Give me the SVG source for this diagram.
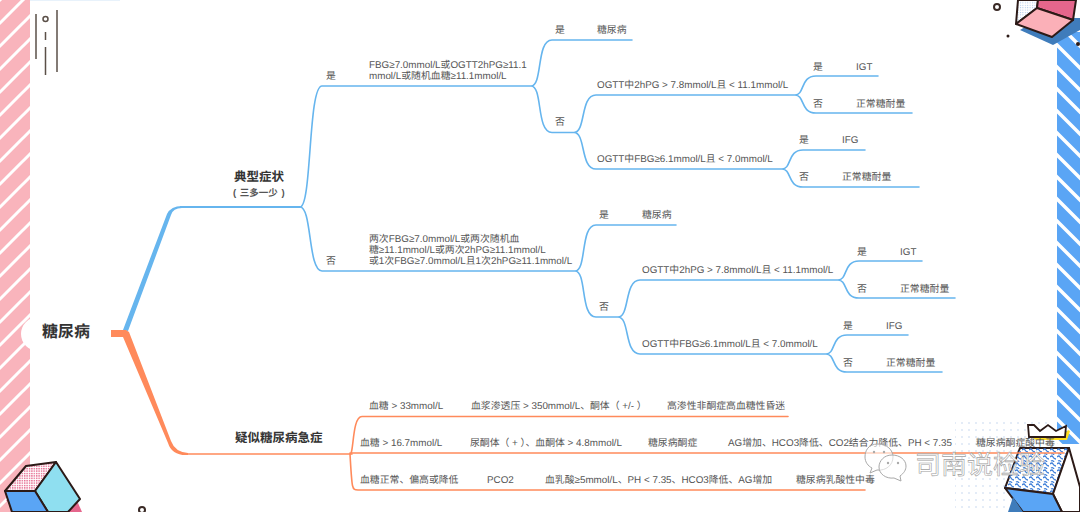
<svg xmlns="http://www.w3.org/2000/svg" width="1080" height="512" viewBox="0 0 1080 512">
<style>
text{font-family:"Liberation Sans","Noto Sans CJK SC",sans-serif;font-size:9.850px;fill:#555;text-rendering:geometricPrecision}
.b{fill:none;stroke:#66b5ee;stroke-width:1.600;stroke-linecap:round}
.o{fill:none;stroke:#ff8a5b;stroke-width:1.600;stroke-linecap:round}
.k{stroke:#2c1a17;stroke-width:2;stroke-linejoin:round}
.h{font-size:12.500px;font-weight:bold;fill:#333}
.d{fill:none;stroke:#5b5048;stroke-width:1.500}
.wm{font-size:26px;fill:#fff;stroke:#a0a0a0;stroke-width:.6}
.bub{fill:#fff;fill-opacity:.6;stroke:#a8a8a8;stroke-width:1}
</style>
<defs>
<pattern id="ps" width="23" height="23" patternUnits="userSpaceOnUse"><rect width="23" height="23" fill="#f9b4bc"/><path d="M-5 5L5-5M-5 28L28-5M18 28L28 18" stroke="#fff" stroke-width="3"/></pattern>
<pattern id="bs" width="22" height="22" patternUnits="userSpaceOnUse"><rect width="22" height="22" fill="#5aa5f5"/><path d="M-5 17L5 27M-5-5L27 27M17-5L27 5" stroke="#fff" stroke-width="3.500"/></pattern>
<pattern id="hp" width="2.400" height="2.400" patternUnits="userSpaceOnUse"><rect width="2.400" height="2.400" fill="#fff"/><rect width="1.400" height="1.400" fill="#e5668c"/></pattern>
<pattern id="hb" width="2.400" height="2.400" patternUnits="userSpaceOnUse"><rect width="2.400" height="2.400" fill="#fff"/><rect width="1" height="1" fill="#a9c6e8"/></pattern>
<pattern id="sq" width="7" height="7" patternUnits="userSpaceOnUse"><path d="M0 2q2-2 3 0t3 2M1 6q2-1 3 1" fill="none" stroke="#3f7fd8" stroke-width="1.300"/></pattern>
<pattern id="dt" width="7" height="7" patternUnits="userSpaceOnUse"><circle cx="3" cy="3" r="1" fill="#dbe6f5"/></pattern>
</defs>
<rect width="1080" height="512" fill="#fff"/>
<rect width="30" height="512" fill="url(#ps)"/>
<rect x="1057" y="32" width="23" height="412" fill="url(#bs)"/>
<rect x="30" y="0" width="90" height="1" fill="#e8f2fb"/>
<g id="deco-top-left"><path class="d" d="M36 14V59M45.500 32V40M45.500 47V75M57 10V72"/><circle cx="45.500" cy="19" r="2.500" fill="#fff" stroke="#5b5048" stroke-width="1.500"/></g>
<g id="deco-top-right">
<circle cx="997" cy="7" r="3" fill="#fff" stroke="#3a2a26" stroke-width="2"/><circle cx="1008" cy="36" r="1.500" fill="#2c1a17"/><circle cx="1078" cy="44" r="2" fill="#2c1a17"/>
<path d="M1020 30L1053 45L1080 30V18H1040Z" fill="#3f7cbb"/>
<path class="k" d="M1016 24L1018 0H1038L1037 8Z" fill="url(#hb)"/>
<path class="k" d="M1037 8L1038 0H1076L1073 20Z" fill="#e5668c"/>
<path class="k" d="M1016 24L1037 8L1073 20L1052 37Z" fill="#fbb0b8"/>
</g>
<g id="deco-bottom-left">
<path d="M6 500L16 512H82L78 503Z" fill="#e5668c"/>
<path class="k" d="M5 491L26 466L56 462L35 491Z" fill="url(#hp)"/>
<path class="k" d="M35 491L56 462L80 499L68 512H48Z" fill="#8fdff0"/>
<path class="k" d="M5 491H35L48 512H12Z" fill="#5aa5f5"/>
<circle cx="142" cy="510" r="3" fill="#fff" stroke="#3a2a26" stroke-width="2"/>
</g>
<g id="deco-bottom-right">
<rect x="955" y="422" width="95" height="90" fill="url(#dt)"/>
<path d="M1031 437H1062L1068 430L1070 431L1067 440H1036Z" fill="#ffdf1f"/>
<path d="M1028 425L1029 437H1065L1066 426L1056 431L1048 425L1040 431L1034 425Z" fill="#fff" stroke="#2c1a17" stroke-width="1.800"/>
<path class="k" d="M1020 448H1069L1053 494L1005 488Z" fill="#fff"/>
<path d="M1020 448H1069L1053 494L1005 488Z" fill="url(#sq)"/>
<path class="k" d="M1069 448L1080 487V512H1062L1053 494Z" fill="#fff"/>
<path class="k" d="M1005 488L1053 494L1062 512H1023Z" fill="#5aa5f5"/>
<path d="M1008 512L1013 497L1023 512Z" fill="#3f7cbb"/>
</g>
<g id="connectors">
<path d="M123 330L167 214Q171 206 182 206V208Q173 208 171 215L128 331Z" fill="#66b5ee"/>
<path d="M111 330H126L129 332L171 441Q175 452 188 453V455Q172 456 168 443L123 337H111Z" fill="#ff8a5b"/>
<path d="M180 207H300" fill="none" stroke="#66b5ee" stroke-width="2"/>
<path class="b" d="M300 207C312 207 308 86 322 86H531C543 86 536 40 552 40H632M531 86C543 86 536 132.500 552 132.500H574C586 132.500 580 95 596 95H795C805 95 800 76 816 76H878M795 95C805 95 800 113 816 113H912M574 132.500C586 132.500 580 169 596 169H782C792 169 787 150 803 150H865M782 169C792 169 787 187 803 187H919"/>
<path class="b" d="M300 207C312 207 308 271 322 271H575C587 271 580 225 596 225H676M575 271C587 271 580 317 596 317H618C630 317 624 280 640 280H838C848 280 843 261 859 261H922M838 280C848 280 843 298 859 298H955M618 317C630 317 624 354 640 354H826C836 354 831 335 847 335H908M826 354C836 354 831 372 847 372H942"/>
<path class="o" d="M188 454H352"/>
<path class="o" d="M350 454C354 454 352 416.500 362 416.500H788M350 453H1064M350 454C352 490 352 490 358 490H865"/>
</g>
<g id="root"><circle cx="38" cy="334" r="17" fill="#fff"/><text x="42" y="337" style="font-size:16px;font-weight:bold;fill:#333">糖尿病</text></g>
<g id="n-typical"><text class="h" x="234" y="181">典型症状</text><text x="233" y="196" style="font-weight:bold;font-size:9.500px;word-spacing:1px">( 三多一少 )</text></g>
<g id="n-suspect"><text class="h" x="235" y="442">疑似糖尿病急症</text></g>
<g id="n-upper">
<text x="326" y="79">是</text>
<text x="369" y="68">FBG≥7.0mmol/L或OGTT2hPG≥11.1</text><text x="369" y="79">mmol/L或随机血糖≥11.1mmol/L</text>
<text x="555" y="33">是</text><text x="597" y="33">糖尿病</text>
<text x="555" y="125">否</text>
<text x="597" y="88">OGTT中2hPG &gt; 7.8mmol/L且 &lt; 11.1mmol/L</text>
<text x="813" y="70">是</text><text x="856" y="70">IGT</text><text x="813" y="107">否</text><text x="856" y="107">正常糖耐量</text>
<text x="597" y="162">OGTT中FBG≥6.1mmol/L且 &lt; 7.0mmol/L</text>
<text x="799" y="143">是</text><text x="842" y="143">IFG</text><text x="799" y="180">否</text><text x="842" y="180">正常糖耐量</text>
</g>
<g id="n-lower">
<text x="326" y="264">否</text>
<text x="369" y="242">两次FBG≥7.0mmol/L或两次随机血</text><text x="369" y="253">糖≥11.1mmol/L或两次2hPG≥11.1mmol/L</text><text x="369" y="264">或1次FBG≥7.0mmol/L且1次2hPG≥11.1mmol/L</text>
<text x="599" y="218">是</text><text x="642" y="218">糖尿病</text>
<text x="599" y="310">否</text>
<text x="642" y="273">OGTT中2hPG &gt; 7.8mmol/L且 &lt; 11.1mmol/L</text>
<text x="857" y="255">是</text><text x="900" y="255">IGT</text><text x="857" y="292">否</text><text x="900" y="292">正常糖耐量</text>
<text x="642" y="347">OGTT中FBG≥6.1mmol/L且 &lt; 7.0mmol/L</text>
<text x="843" y="329">是</text><text x="886" y="329">IFG</text><text x="843" y="366">否</text><text x="886" y="366">正常糖耐量</text>
</g>
<g id="n-acute">
<text x="369" y="409">血糖 &gt; 33mmol/L</text><text x="471" y="409">血浆渗透压 &gt; 350mmol/L、酮体（ +/- ）</text><text x="667" y="409">高渗性非酮症高血糖性昏迷</text>
<text x="360" y="446">血糖 &gt; 16.7mmol/L</text><text x="470" y="446">尿酮体（ + ）、血酮体 &gt; 4.8mmol/L</text><text x="648" y="446">糖尿病酮症</text><text x="728" y="446">AG增加、HCO3降低、CO2结合力降低、PH &lt; 7.35</text><text x="976" y="446">糖尿病酮症酸中毒</text>
<text x="360" y="483">血糖正常、偏高或降低</text><text x="487" y="483">PCO2</text><text x="545" y="483">血乳酸≥5mmol/L、PH &lt; 7.35、HCO3降低、AG增加</text><text x="796" y="483">糖尿病乳酸性中毒</text>
</g>
<g id="watermark">
<path class="bub" d="M878 444C868 444 865 451 865 457C865 462 868 466 872 468L870 473L877 470C886 471 893 465 893 457C893 450 887 444 878 444Z"/>
<path class="bub" d="M892 455C884 455 879 461 879 467C879 474 886 479 894 478L901 481L900 476C904 473 906 470 906 466C906 460 900 455 892 455Z"/>
<circle cx="874" cy="452" r="1.200" fill="#aaa"/><circle cx="884" cy="452" r="1.200" fill="#aaa"/><circle cx="888" cy="463" r="1.200" fill="#aaa"/><circle cx="898" cy="463" r="1.200" fill="#aaa"/>
<text class="wm" x="915" y="474">司南说检验</text>
</g>
</svg>
